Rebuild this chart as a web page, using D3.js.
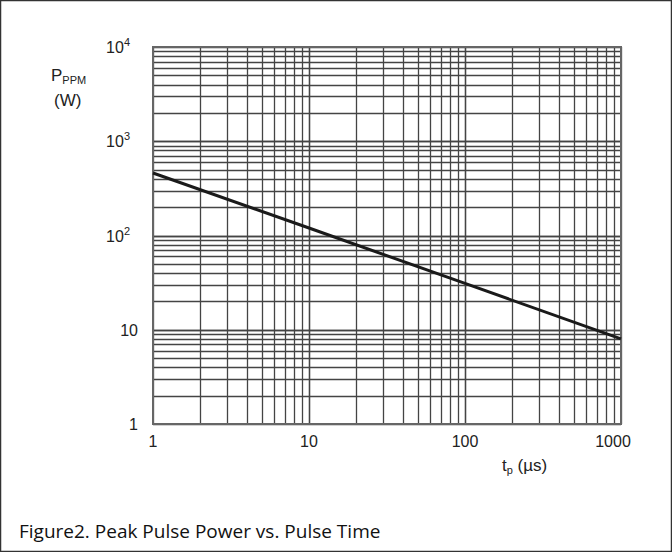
<!DOCTYPE html>
<html><head><meta charset="utf-8">
<script src="https://cdn.jsdelivr.net/npm/d3@7"></script>
<style>body{margin:0;background:#fff}svg{display:block}</style>
</head><body>
<script>
const tpValues = [1, 10, 100, 1000];
const powerValues = [460, 120, 31, 8];
const xTickLabels = ["1", "10", "100", "1000"];
const yTickLabels = [["1",""], ["10",""], ["10","2"], ["10","3"], ["10","4"]];
const yTickValues = [1, 10, 100, 1000, 10000];

const W = 672, H = 552;
const svg = d3.select("body").append("svg").attr("width", W).attr("height", H);
svg.append("rect").attr("x",0.5).attr("y",0.5).attr("width",W-1).attr("height",H-1)
  .attr("fill","#fff").attr("stroke","#333").attr("stroke-width",1.5);

const x = d3.scaleLog().domain([1,1000]).range([153,621]);
const y = d3.scaleLog().domain([1,10000]).range([424,47]);

const g = svg.append("g");
const xGrid = [];
for (let d = 1; d < 1000; d *= 10) for (let k = 1; k <= 10; k++) xGrid.push(d*k);
const yGrid = [];
for (let d = 1; d < 10000; d *= 10) for (let k = 1; k <= 10; k++) yGrid.push(d*k);
g.selectAll(".vx").data(xGrid).join("line")
  .attr("x1", d=>Math.round(x(d))+0.5).attr("x2", d=>Math.round(x(d))+0.5)
  .attr("y1", y(1)).attr("y2", y(10000))
  .attr("stroke","#444").attr("stroke-width",1.3);
g.selectAll(".hy").data(yGrid).join("line")
  .attr("y1", d=>Math.round(y(d))+0.5).attr("y2", d=>Math.round(y(d))+0.5)
  .attr("x1", x(1)).attr("x2", x(1000))
  .attr("stroke","#444").attr("stroke-width",1.3);
g.append("rect").attr("x",x(1)).attr("y",y(10000)).attr("width",x(1000)-x(1)).attr("height",y(1)-y(10000))
  .attr("fill","none").attr("stroke","#666").attr("stroke-width",2);

const data = tpValues.map((t,i)=>[t, powerValues[i]]);
svg.append("path").datum(data)
  .attr("d", d3.line().x(d=>x(d[0])).y(d=>y(d[1])))
  .attr("fill","none").attr("stroke","#1a1a1a").attr("stroke-width",3);

const font = "'Liberation Sans', Arial, sans-serif";
yTickValues.forEach((v,i)=>{
  const t = svg.append("text").attr("x",138).attr("y",y(v)+6)
    .attr("text-anchor","end").attr("font-family",font).attr("font-size",16).attr("fill","#222");
  if (yTickLabels[i][1]) {
    t.attr("x",130);
    t.append("tspan").text(yTickLabels[i][0]);
    t.append("tspan").attr("dy",-7).attr("font-size",11).text(yTickLabels[i][1]);
  } else t.text(yTickLabels[i][0]);
});
tpValues.forEach((v,i)=>{
  svg.append("text").attr("x",x(v) - (i===3?8:0)).attr("y",447).attr("text-anchor","middle")
    .attr("font-family",font).attr("font-size",16).attr("fill","#222").text(xTickLabels[i]);
});
const yt = svg.append("text").attr("x",51).attr("y",81).attr("font-family",font).attr("font-size",17).attr("fill","#222");
yt.append("tspan").text("P");
yt.append("tspan").attr("dy",3).attr("font-size",11).text("PPM");
svg.append("text").attr("x",54).attr("y",106).attr("font-family",font).attr("font-size",17).attr("fill","#222").text("(W)");
const xt = svg.append("text").attr("x",502).attr("y",471).attr("font-family",font).attr("font-size",17).attr("fill","#222");
xt.append("tspan").text("t");
xt.append("tspan").attr("dy",3).attr("font-size",11).text("p");
xt.append("tspan").attr("dy",-3).text(" (µs)");

svg.append("text").attr("x",19).attr("y",538).attr("font-family","'Open Sans', 'Noto Sans', sans-serif")
  .attr("font-size",19).attr("fill","#111").text("Figure2. Peak Pulse Power vs. Pulse Time");
</script>
</body></html>
